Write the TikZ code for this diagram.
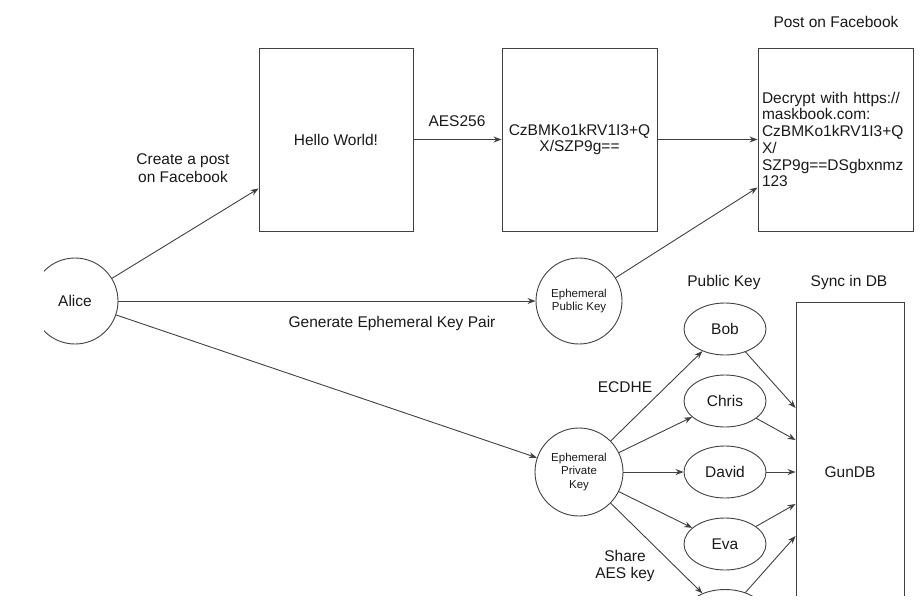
\documentclass[tikz,border=0pt]{standalone}
\usepackage{fontspec}
\setmainfont{Liberation Sans}
\usetikzlibrary{arrows.meta,calc,shapes.geometric}
\begin{document}
\begin{tikzpicture}[x=1pt,y=-1pt,
  every node/.style={font=\fontsize{15.5}{16.7}\selectfont, text=black!90},
  line/.style={draw=black!75, line width=0.9pt},
  arr/.style={line, -{Stealth[length=8pt,width=6pt]}},
  box/.style={line, rectangle, inner sep=4pt, minimum height=183pt},
  circ/.style={line, circle, inner sep=0pt, minimum size=86pt, font=\fontsize{11.5}{13.8}\selectfont, align=center},
  ell/.style={line, ellipse, inner sep=0pt, minimum width=82pt, minimum height=52pt},
  lab/.style={inner sep=0pt, align=center, font=\fontsize{15.5}{17.7}\selectfont}]
\useasboundingbox (0,0) rectangle (924,614);
\clip (44,0) rectangle (924,595);

\node[circ, font=\fontsize{15.5}{17}\selectfont] (alice) at (75,301) {Alice};
\node[box, minimum width=154pt] (hello) at (336,139.5) {Hello World!};
\node[box, minimum width=155pt, align=center] (enc) at (579.5,139.5) {CzBMKo1kRV1I3+Q\\X/SZP9g==};
\node[box, minimum width=155pt, text width=147pt, align=left] (post) at (835.5,139.5) {Decrypt with https://\\maskbook.com:\\CzBMKo1kRV1I3+Q\\X/\\SZP9g==DSgbxnmz\\123};
\node[circ] (pub) at (579,301) {Ephemeral\\Public Key};
\node[circ, minimum size=88pt] (priv) at (579,472) {Ephemeral\\Private\\Key};
\node[ell] (bob) at (725,329) {Bob};
\node[ell] (chris) at (725,401) {Chris};
\node[ell] (david) at (725,472) {David};
\node[ell] (eva) at (725,544) {Eva};
\node[ell] (fifth) at (725,615.5) {};
\node[box, minimum width=108pt, minimum height=340pt] (gun) at (850,472) {GunDB};

\node[lab] (lpost) at (836,21.5) {Post on Facebook};
\node[lab] (lcreate) at (183,168) {Create a post\\on Facebook};
\node[lab] (laes) at (457,121) {AES256};
\node[lab] (lgen) at (392,323) {Generate Ephemeral Key Pair};
\node[lab] (lpk) at (724,282) {Public Key};
\node[lab] (lsync) at (849,282) {Sync in DB};
\node[lab] (lecdhe) at (625,387) {ECDHE};
\node[lab] (lshare) at (625,566) {Share\\AES key};

\draw[arr] (alice) -- ($(hello.west)+(0,49)$);
\draw[arr] (hello) -- (enc);
\draw[arr] (enc) -- (post);
\draw[arr] (pub) -- ($(post.west)+(0,48)$);
\draw[arr] (alice) -- (pub);
\draw[arr] (alice) -- (priv);
\foreach \n in {bob,chris,david,eva,fifth} {\draw[arr] (priv) -- (\n);}
\draw[arr] (bob) -- ($(gun.west)+(0,-64)$);
\draw[arr] (chris) -- ($(gun.west)+(0,-32)$);
\draw[arr] (david) -- (gun.west);
\draw[arr] (eva) -- ($(gun.west)+(0,32)$);
\draw[arr] (fifth) -- ($(gun.west)+(0,64)$);
\end{tikzpicture}
\end{document}
